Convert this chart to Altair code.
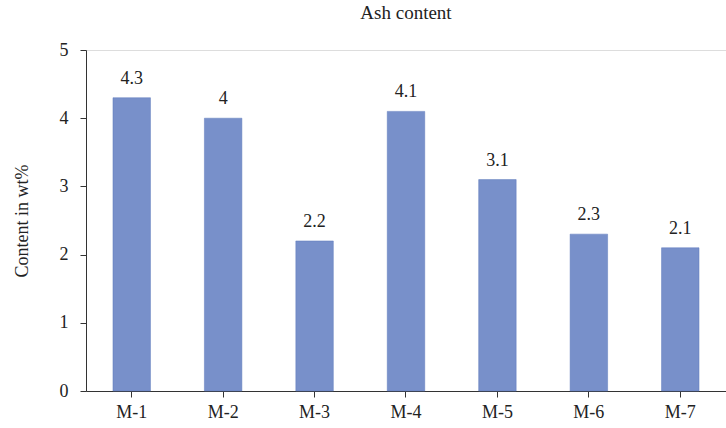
import altair as alt
import pandas as pd

# Ash content per sample (wt%)
samples = ["M-1", "M-2", "M-3", "M-4", "M-5", "M-6", "M-7"]
ash = [4.3, 4.0, 2.2, 4.1, 3.1, 2.3, 2.1]
labels = ["4.3", "4", "2.2", "4.1", "3.1", "2.3", "2.1"]

df = pd.DataFrame({"sample": samples, "ash": ash, "label": labels})

FONT = "Liberation Serif"
INK = "#222"

x = alt.X("sample:N", sort=samples, title=None,
          scale=alt.Scale(paddingInner=0.59, paddingOuter=0.295),
          axis=alt.Axis(labelAngle=0, labelFontSize=18, labelFont=FONT,
                        labelColor=INK, labelPadding=6, tickSize=6,
                        tickColor="#333", domainColor="#333", grid=False))
y = alt.Y("ash:Q", title="Content in wt%",
          scale=alt.Scale(domain=[0, 5], nice=False),
          axis=alt.Axis(values=[0, 1, 2, 3, 4, 5], format="d",
                        labelFontSize=18, labelFont=FONT, labelColor=INK,
                        labelPadding=12, tickSize=6, tickColor="#333",
                        domainColor="#333", grid=False, titleFont=FONT,
                        titleFontSize=18, titleFontWeight="normal",
                        titleColor=INK, titlePadding=28))

bars = alt.Chart(df).mark_bar(color="#7890ca", stroke="#5f7bbc",
                              strokeWidth=0.5).encode(x=x, y=y)

text = alt.Chart(df).mark_text(font=FONT, fontSize=18, color=INK,
                               baseline="alphabetic", dy=-14).encode(
    x=alt.X("sample:N", sort=samples),
    y=alt.Y("ash:Q"),
    text="label:N")

chart = (bars + text).properties(
    width=640, height=341,
    title=alt.Title("Ash content", font=FONT, fontSize=19,
                    fontWeight="normal", color=INK, offset=18),
    autosize=alt.AutoSizeParams(type="none"),
    padding={"left": 86, "top": 50, "right": 0, "bottom": 37},
).configure_view(stroke=None).configure(background="white")

chart.save("out.html", embed_options={"renderer": "svg", "actions": False})
